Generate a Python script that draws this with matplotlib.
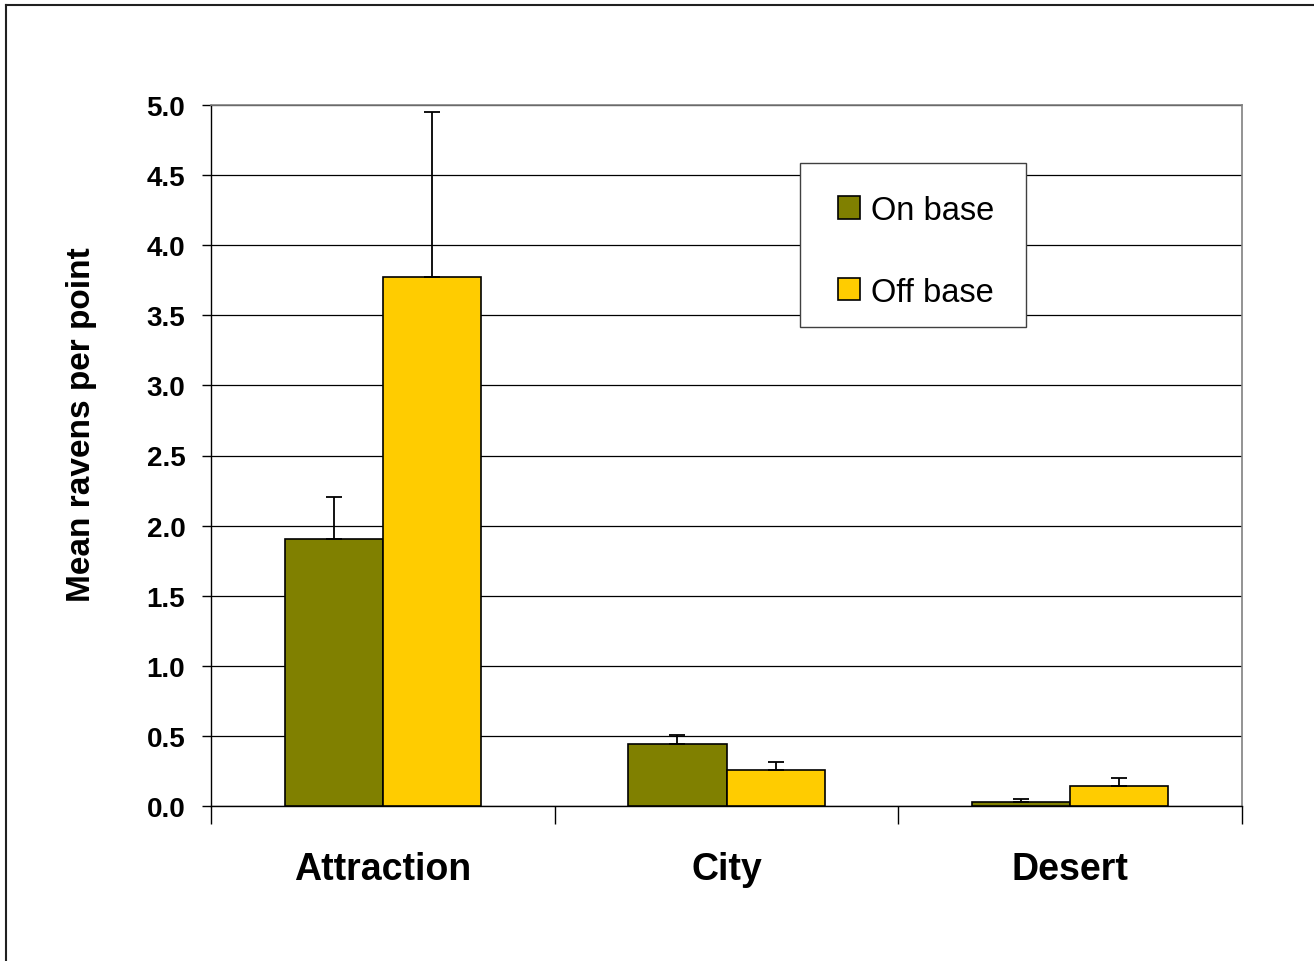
import matplotlib
matplotlib.use("Agg")
import matplotlib.pyplot as plt
import numpy as np
from matplotlib.lines import Line2D
from matplotlib.patches import Rectangle

categories = ["Attraction", "City", "Desert"]
series_names = ["On base", "Off base"]
on_base = [1.907, 0.442, 0.034]
off_base = [3.774, 0.256, 0.145]
on_base_err = [0.298, 0.066, 0.018]
off_base_err = [1.176, 0.060, 0.057]
yticks = [0.0, 0.5, 1.0, 1.5, 2.0, 2.5, 3.0, 3.5, 4.0, 4.5, 5.0]

plt.rcParams['font.family'] = ['Liberation Sans', 'DejaVu Sans']

W, H = 1314, 962
fig = plt.figure(figsize=(W / 100, H / 100), dpi=100)
ax = fig.add_axes([211 / W, 1 - 807.3 / H, (1242 - 211) / W, (807.3 - 105.7) / H])

x = np.arange(len(categories))
bw = 0.286
ax.bar(x - bw / 2, on_base, bw, color="#808000", edgecolor="black", linewidth=1.2, zorder=3,
       label=series_names[0])
ax.bar(x + bw / 2, off_base, bw, color="#FFCC00", edgecolor="black", linewidth=1.2, zorder=3,
       label=series_names[1])
ax.errorbar(x - bw / 2, on_base, yerr=[np.zeros(3), on_base_err], fmt="none", ecolor="black",
            elinewidth=1.3, capsize=6, capthick=1.3, zorder=4)
ax.errorbar(x + bw / 2, off_base, yerr=[np.zeros(3), off_base_err], fmt="none", ecolor="black",
            elinewidth=1.3, capsize=6, capthick=1.3, zorder=4)

ax.set_xlim(-0.5, 2.5)
ax.set_ylim(0, 5.0)
ax.set_yticks(yticks)
ax.set_yticklabels([f"{v:.1f}" for v in yticks], fontsize=20, fontweight="bold")
ax.yaxis.grid(True, color="black", linewidth=0.9, zorder=0)
ax.set_axisbelow(True)
ax.tick_params(axis="y", length=6.5, width=1, pad=12, direction="out")

ax.set_xticks(x)
ax.set_xticklabels(categories, fontsize=27, fontweight="bold")
ax.set_xticks([-0.5, 0.5, 1.5, 2.5], minor=True)
ax.tick_params(axis="x", which="major", length=0, pad=32)
ax.tick_params(axis="x", which="minor", length=13, width=1, direction="out")

for s in ["top", "right"]:
    ax.spines[s].set_color("#808080")
    ax.spines[s].set_linewidth(1.2)
for s in ["left", "bottom"]:
    ax.spines[s].set_color("black")
    ax.spines[s].set_linewidth(1.0)

ax.set_ylabel("Mean ravens per point", fontsize=24, fontweight="bold")
ax.yaxis.set_label_coords((97 - 211) / (1242 - 211), (807.3 - 425) / (807.3 - 105.7))

# legend box
box = Rectangle((800 / W, 1 - 328 / H), 226 / W, 164 / H, transform=fig.transFigure,
                facecolor="white", edgecolor="#404040", linewidth=1.0, zorder=4.5, clip_on=False)
ax.add_patch(box)
leg = ax.legend(loc="upper left", bbox_to_anchor=(838 / W, 1 - 196 / H), bbox_transform=fig.transFigure,
                fontsize=23.5, frameon=False, borderpad=0, labelspacing=1.55,
                handlelength=0.68, handleheight=0.68, handletextpad=0.32, borderaxespad=0)
leg.set_zorder(6)

fig.add_artist(Line2D([5.5 / W, 1.0], [1 - 5.5 / H, 1 - 5.5 / H], transform=fig.transFigure,
                      color="#202020", linewidth=1.5))
fig.add_artist(Line2D([5.5 / W, 5.5 / W], [0.0, 1 - 5.5 / H], transform=fig.transFigure,
                      color="#202020", linewidth=1.5))

fig.savefig("out.png", dpi=100)
